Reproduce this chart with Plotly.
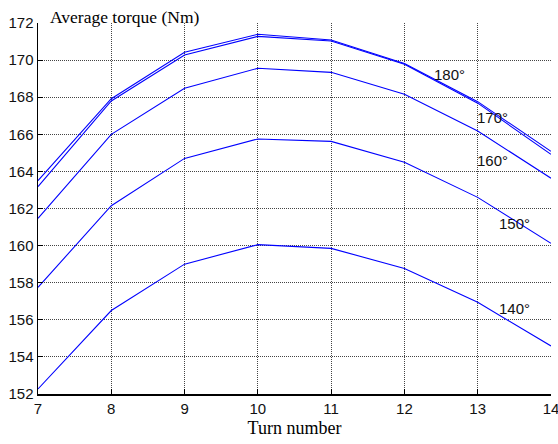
import plotly.graph_objects as go

turns = [7, 8, 9, 10, 11, 12, 13, 14]
angles = ["180°", "170°", "160°", "150°", "140°"]
torque_180 = [163.5, 167.92, 170.42, 171.39, 171.08, 169.82, 167.76, 165.08]
torque_170 = [163.18, 167.8, 170.27, 171.28, 171.03, 169.78, 167.68, 164.92]
torque_160 = [161.47, 166.0, 168.48, 169.56, 169.34, 168.16, 166.18, 163.63]
torque_150 = [157.75, 162.15, 164.7, 165.75, 165.62, 164.49, 162.6, 160.12]
torque_140 = [152.27, 156.5, 159.0, 160.05, 159.85, 158.77, 156.94, 154.59]
series = [torque_180, torque_170, torque_160, torque_150, torque_140]
label_x = [12.62, 13.2, 13.2, 13.5, 13.5]
label_y = [169.2, 166.9, 164.6, 161.2, 156.6]
yticks = [152, 154, 156, 158, 160, 162, 164, 166, 168, 170, 172]

fig = go.Figure()
for name, vals in zip(angles, series):
    fig.add_trace(go.Scatter(x=turns, y=vals, mode="lines", name=name,
                             line=dict(color="#0000ff", width=1.1),
                             showlegend=False, cliponaxis=False, hoverinfo="skip"))

for name, lx, ly in zip(angles, label_x, label_y):
    fig.add_annotation(x=lx, y=ly, text=name, showarrow=False,
                       font=dict(family="Liberation Sans, Arial", size=15, color="#111"))

fig.add_annotation(xref="paper", yref="paper", x=0.17, y=1.0, xanchor="center",
                   yanchor="bottom", text="Average torque (Nm)", showarrow=False,
                   font=dict(family="Liberation Serif, Times New Roman", size=17.5, color="black"),
                   yshift=-6)

fig.update_layout(
    width=558, height=444,
    margin=dict(l=38, r=7, t=23, b=50, autoexpand=False),
    paper_bgcolor="white", plot_bgcolor="white",
    xaxis=dict(range=[7, 14], tickvals=turns, ticktext=[str(t) for t in turns],
               showgrid=True, gridcolor="#444444", griddash="1px,1px", gridwidth=1,
               showline=True, linecolor="black", linewidth=1.5, mirror=False,
               ticks="inside", ticklen=5, tickcolor="black",
               automargin=False, ticklabeloverflow="allow",
               tickfont=dict(family="Liberation Sans, Arial", size=15, color="#111"),
               title=dict(text="Turn number", standoff=6,
                          font=dict(family="Liberation Serif, Times New Roman", size=18, color="black")),
               zeroline=False),
    yaxis=dict(range=[152, 172], tickvals=yticks,
               showgrid=True, gridcolor="#444444", griddash="1px,1px", gridwidth=1,
               showline=True, linecolor="black", linewidth=1.5, mirror=False,
               ticks="inside", ticklen=5, tickcolor="black",
               automargin=False, ticklabeloverflow="allow",
               tickfont=dict(family="Liberation Sans, Arial", size=15, color="#111"),
               zeroline=False),
)

fig.write_html("out.html", config={"displayModeBar": False, "staticPlot": True},
               post_script="document.body.style.margin='0';document.body.style.overflow='hidden';")
